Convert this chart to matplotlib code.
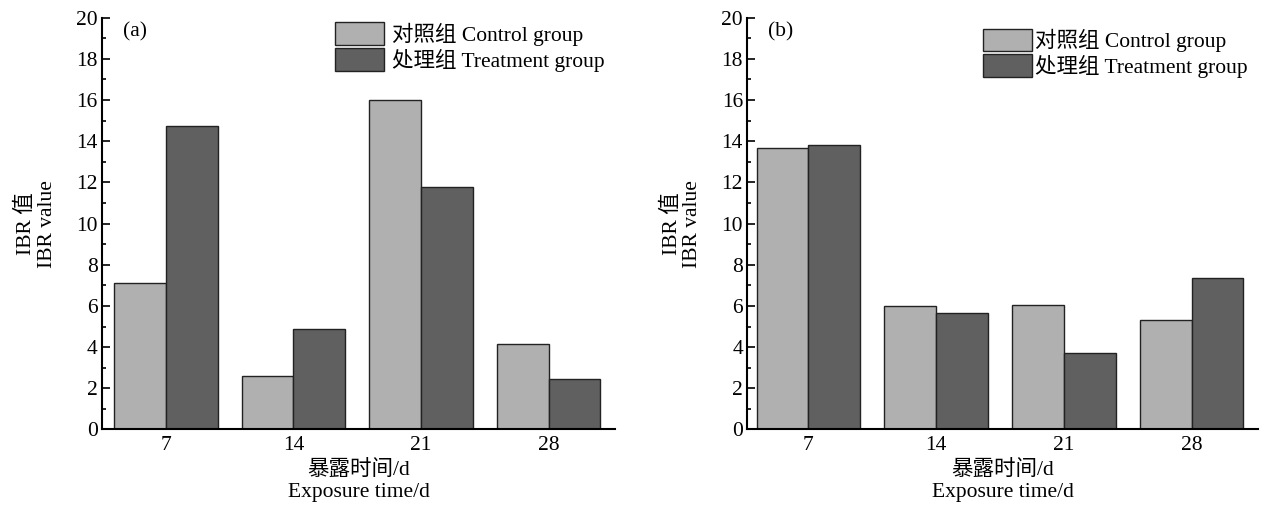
import numpy as np
import matplotlib.pyplot as plt
from matplotlib.ticker import MultipleLocator

plt.rcParams['font.family'] = ['Liberation Serif', 'Noto Sans CJK SC']

days = ['7', '14', '21', '28']
control_a = [7.11, 2.60, 15.99, 4.15]
treat_a = [14.73, 4.90, 11.79, 2.47]
control_b = [13.68, 5.98, 6.03, 5.33]
treat_b = [13.80, 5.65, 3.70, 7.38]
panel_tags = ['(a)', '(b)']
legend_labels = ['对照组 Control group', '处理组 Treatment group']

light = '#b0b0b0'
dark = '#606060'
w = 0.405
fs = 15.5

fig = plt.figure(figsize=(12.67, 5.07), dpi=100)
ax1 = fig.add_axes([0.0805, 0.153, 0.405, 0.812])
ax2 = fig.add_axes([0.5897, 0.153, 0.4033, 0.812])

for ax, c, t, tag, xl in [(ax1, control_a, treat_a, panel_tags[0], (-0.5, 3.52)),
                          (ax2, control_b, treat_b, panel_tags[1], (-0.48, 3.52))]:
    x = np.arange(len(days))
    ax.bar(x - w/2, c, w, color=light, edgecolor='#222222', linewidth=1.0, label=legend_labels[0])
    ax.bar(x + w/2, t, w, color=dark, edgecolor='#222222', linewidth=1.0, label=legend_labels[1])
    ax.set_xlim(*xl)
    ax.set_ylim(0, 20)
    ax.set_xticks(x)
    ax.set_xticklabels(days)
    ax.yaxis.set_major_locator(MultipleLocator(2))
    ax.yaxis.set_minor_locator(MultipleLocator(1))
    ax.tick_params(axis='y', which='major', direction='in', length=6, width=1.2, labelsize=fs, pad=3)
    ax.tick_params(axis='y', which='minor', direction='in', length=3, width=1.2)
    ax.tick_params(axis='x', length=0, labelsize=fs, pad=5)
    for s in ['top', 'right']:
        ax.spines[s].set_visible(False)
    for s in ['left', 'bottom']:
        ax.spines[s].set_linewidth(1.5)
    ax.set_ylabel('IBR 值\nIBR value', fontsize=fs, labelpad=14, linespacing=1.1)
    ax.set_xlabel('暴露时间/d\nExposure time/d', fontsize=fs, labelpad=3, linespacing=1.25)
    ax.text(0.04, 0.99, tag, transform=ax.transAxes, fontsize=fs, va='top', ha='left')

ax1.legend(loc='upper right', bbox_to_anchor=(1.005, 1.02), frameon=False, fontsize=fs,
           handlelength=2.25, handleheight=1.25, handletextpad=0.4, labelspacing=0.1,
           borderaxespad=0.2)
ax2.legend(loc='upper right', bbox_to_anchor=(1.005, 1.005), frameon=False, fontsize=fs,
           handlelength=2.25, handleheight=1.25, handletextpad=0.15, labelspacing=0.1,
           borderaxespad=0.2)

fig.savefig('out.png', dpi=100)
